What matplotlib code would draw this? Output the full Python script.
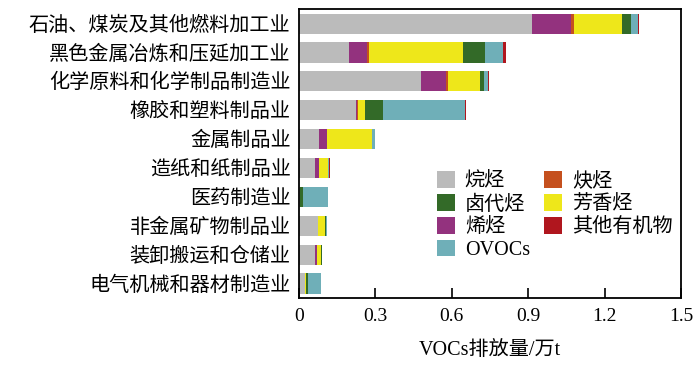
import numpy as np
import matplotlib
matplotlib.use("Agg")
import matplotlib.pyplot as plt

plt.rcParams['font.family'] = ['Liberation Serif', 'Noto Sans CJK SC']

# industries, top to bottom
industries = ["石油、煤炭及其他燃料加工业", "黑色金属冶炼和压延加工业", "化学原料和化学制品制造业",
              "橡胶和塑料制品业", "金属制品业", "造纸和纸制品业", "医药制造业",
              "非金属矿物制品业", "装卸搬运和仓储业", "电气机械和器材制造业"]

# VOCs emission by species, 万t (stack order left to right)
alkane = [0.914, 0.196, 0.479, 0.226, 0.079, 0.065, 0.003, 0.073, 0.063, 0.024]
alkene = [0.152, 0.070, 0.097, 0.003, 0.032, 0.012, 0.000, 0.002, 0.008, 0.001]
alkyne = [0.012, 0.011, 0.008, 0.001, 0.001, 0.002, 0.000, 0.001, 0.001, 0.000]
aromatic = [0.192, 0.368, 0.128, 0.028, 0.173, 0.035, 0.001, 0.028, 0.016, 0.003]
halo = [0.033, 0.085, 0.014, 0.074, 0.003, 0.001, 0.014, 0.002, 0.001, 0.006]
ovocs = [0.028, 0.072, 0.017, 0.321, 0.010, 0.002, 0.097, 0.003, 0.001, 0.052]
other = [0.005, 0.009, 0.003, 0.002, 0.001, 0.004, 0.000, 0.002, 0.000, 0.000]

series = [("烷烃", alkane, "#BBBBBB"),
          ("烯烃", alkene, "#93327E"),
          ("炔烃", alkyne, "#C5501E"),
          ("芳香烃", aromatic, "#EEE71A"),
          ("卤代烃", halo, "#336A28"),
          ("OVOCs", ovocs, "#6FAFB8"),
          ("其他有机物", other, "#B0161E")]

fig = plt.figure(figsize=(7, 3.67), dpi=100)
ax = fig.add_axes([0.427, 0.188, 0.546, 0.787])

y = np.arange(len(industries))
left = np.zeros(len(industries))
bars = {}
for name, vals, color in series:
    bars[name] = ax.barh(y, vals, left=left, height=0.7, color=color, label=name)
    left += np.array(vals)

ax.set_ylim(9.5, -0.5)
ax.set_xlim(0, 1.5)
ax.set_yticks(y)
ax.set_yticklabels(industries, fontsize=14.5)
ax.set_xticks([0, 0.3, 0.6, 0.9, 1.2, 1.5])
ax.set_xticklabels(["0", "0.3", "0.6", "0.9", "1.2", "1.5"], fontsize=14)
ax.tick_params(axis='x', direction='in', length=7, width=1.2, pad=7)
ax.tick_params(axis='y', length=0, pad=6)
for s in ax.spines.values():
    s.set_linewidth(1.3)
ax.set_xlabel("VOCs排放量/万t", fontsize=14.5, labelpad=12)

order = ["烷烃", "卤代烃", "烯烃", "OVOCs", "炔烃", "芳香烃", "其他有机物"]
ax.legend([bars[n] for n in order], order, ncol=2, frameon=False, fontsize=14.5,
          loc='lower right', bbox_to_anchor=(1.01, 0.09), handlelength=0.9, handleheight=0.9,
          handletextpad=0.5, columnspacing=0.7, labelspacing=0.12, borderaxespad=0.2)

fig.savefig("out.png", dpi=100)
